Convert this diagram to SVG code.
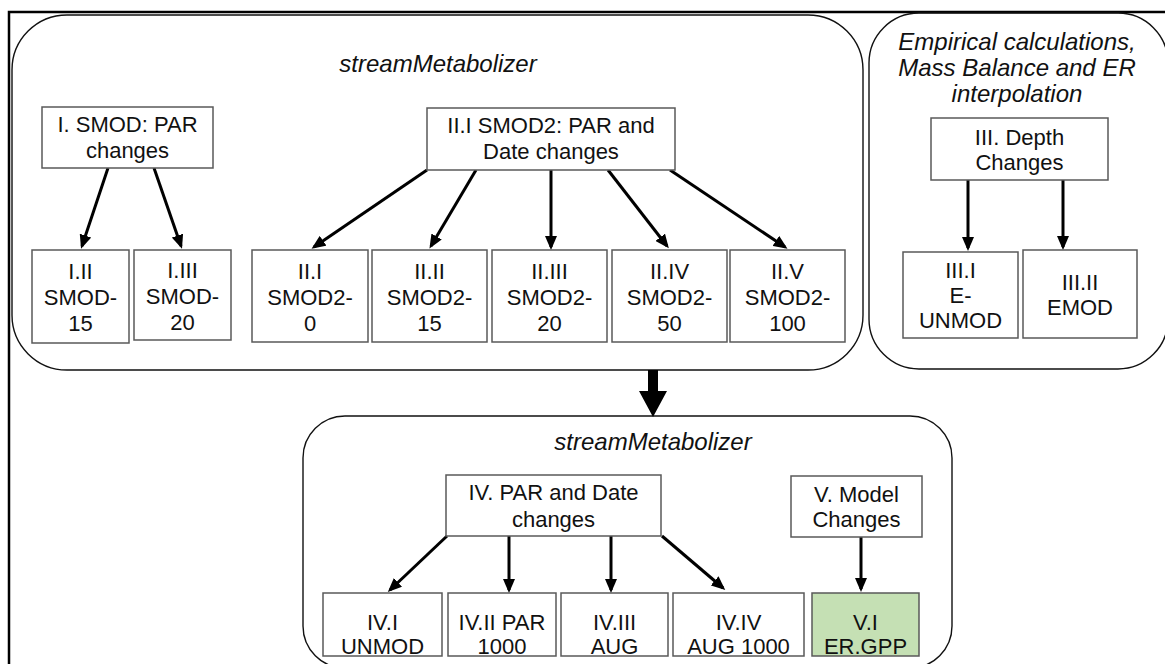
<svg xmlns="http://www.w3.org/2000/svg" width="1165" height="664" viewBox="0 0 1165 664">
<style>
.box{fill:#fff;stroke:#595959;stroke-width:1.5}
.grp{fill:none;stroke:#111;stroke-width:1.4}
.t{font-family:"Liberation Sans",Arial,sans-serif;font-size:22px;fill:#111;text-anchor:middle}
.ti{font-family:"Liberation Sans",Arial,sans-serif;font-size:24px;font-style:italic;fill:#111;text-anchor:middle}
.arr{stroke:#000;stroke-width:3;fill:none;marker-end:url(#ah)}
</style>
<defs>
<marker id="ah" markerUnits="userSpaceOnUse" markerWidth="14" markerHeight="12" viewBox="0 0 14 12" refX="11" refY="6" orient="auto">
<path d="M0,0 L14,6 L0,12 z" fill="#000"/>
</marker>
</defs>
<rect width="1165" height="664" fill="#fff"/>
<path d="M9,666 V12 H1166" fill="none" stroke="#000" stroke-width="2.5"/>

<g id="containers">
<rect id="sm-top" class="grp" x="12" y="15" width="851" height="355" rx="55" ry="55"/>
<rect id="empirical" class="grp" x="869" y="13" width="299" height="356" rx="50" ry="50"/>
<rect id="sm-bottom" class="grp" x="303" y="416" width="649" height="252" rx="42" ry="42"/>
<text class="ti" x="438" y="72">streamMetabolizer</text>
<text class="ti" x="1017" y="50">Empirical calculations,</text>
<text class="ti" x="1017" y="76">Mass Balance and ER</text>
<text class="ti" x="1017" y="102">interpolation</text>
<text class="ti" x="653" y="450">streamMetabolizer</text>
</g>

<g id="connectors">
<line class="arr" x1="108" y1="168" x2="82" y2="246"/>
<line class="arr" x1="154" y1="168" x2="181" y2="246"/>
<line class="arr" x1="427" y1="170" x2="314" y2="247"/>
<line class="arr" x1="476" y1="170" x2="431" y2="246"/>
<line class="arr" x1="551" y1="170" x2="551" y2="247"/>
<line class="arr" x1="608" y1="170" x2="667" y2="246"/>
<line class="arr" x1="670" y1="170" x2="785" y2="247"/>
<line class="arr" x1="968" y1="180" x2="968" y2="248"/>
<line class="arr" x1="1063" y1="180" x2="1063" y2="247"/>
<line class="arr" x1="447" y1="536" x2="390" y2="590"/>
<line class="arr" x1="509" y1="536" x2="509" y2="590"/>
<line class="arr" x1="611" y1="536" x2="611" y2="590"/>
<line class="arr" x1="662" y1="536" x2="723" y2="588"/>
<line class="arr" x1="861" y1="537" x2="861" y2="589"/>
<polygon points="648,370 658,370 658,391 667,391 653,417 639,391 648,391" fill="#000"/>
</g>

<g id="n-I">
<rect class="box" x="42" y="107" width="171" height="61"/>
<text class="t" x="127.5" y="132">I. SMOD: PAR</text>
<text class="t" x="127.5" y="158">changes</text>
</g>
<g id="n-I-II">
<rect class="box" x="32" y="250" width="97" height="93"/>
<text class="t" x="80.5" y="279">I.II</text>
<text class="t" x="80.5" y="305">SMOD-</text>
<text class="t" x="80.5" y="331">15</text>
</g>
<g id="n-I-III">
<rect class="box" x="134" y="250" width="97" height="90"/>
<text class="t" x="182.5" y="278">I.III</text>
<text class="t" x="182.5" y="304">SMOD-</text>
<text class="t" x="182.5" y="330">20</text>
</g>
<g id="n-II">
<rect class="box" x="427" y="108" width="248" height="62"/>
<text class="t" x="551" y="133">II.I SMOD2: PAR and</text>
<text class="t" x="551" y="159">Date changes</text>
</g>
<g id="n-II-I">
<rect class="box" x="252" y="250" width="116" height="92"/>
<text class="t" x="310" y="279">II.I</text>
<text class="t" x="310" y="305">SMOD2-</text>
<text class="t" x="310" y="331">0</text>
</g>
<g id="n-II-II">
<rect class="box" x="372" y="250" width="115" height="92"/>
<text class="t" x="429.5" y="279">II.II</text>
<text class="t" x="429.5" y="305">SMOD2-</text>
<text class="t" x="429.5" y="331">15</text>
</g>
<g id="n-II-III">
<rect class="box" x="492" y="250" width="115" height="92"/>
<text class="t" x="549.5" y="279">II.III</text>
<text class="t" x="549.5" y="305">SMOD2-</text>
<text class="t" x="549.5" y="331">20</text>
</g>
<g id="n-II-IV">
<rect class="box" x="612" y="250" width="115" height="92"/>
<text class="t" x="669.5" y="279">II.IV</text>
<text class="t" x="669.5" y="305">SMOD2-</text>
<text class="t" x="669.5" y="331">50</text>
</g>
<g id="n-II-V">
<rect class="box" x="730" y="250" width="115" height="92"/>
<text class="t" x="787.5" y="279">II.V</text>
<text class="t" x="787.5" y="305">SMOD2-</text>
<text class="t" x="787.5" y="331">100</text>
</g>
<g id="n-III">
<rect class="box" x="931" y="118" width="177" height="62"/>
<text class="t" x="1019.5" y="145">III. Depth</text>
<text class="t" x="1019.5" y="170">Changes</text>
</g>
<g id="n-III-I">
<rect class="box" x="903" y="252" width="115" height="86"/>
<text class="t" x="960.5" y="278">III.I</text>
<text class="t" x="960.5" y="303">E-</text>
<text class="t" x="960.5" y="328">UNMOD</text>
</g>
<g id="n-III-II">
<rect class="box" x="1023" y="250" width="114" height="88"/>
<text class="t" x="1080" y="290">III.II</text>
<text class="t" x="1080" y="315">EMOD</text>
</g>
<g id="n-IV">
<rect class="box" x="446" y="475" width="215" height="61"/>
<text class="t" x="553.5" y="500">IV. PAR and Date</text>
<text class="t" x="553.5" y="527">changes</text>
</g>
<g id="n-V">
<rect class="box" x="791" y="476" width="131" height="61"/>
<text class="t" x="856.5" y="502">V. Model</text>
<text class="t" x="856.5" y="527">Changes</text>
</g>
<g id="n-IV-I">
<rect class="box" x="323" y="593" width="119" height="63"/>
<text class="t" x="382.5" y="630">IV.I</text>
<text class="t" x="382.5" y="654">UNMOD</text>
</g>
<g id="n-IV-II">
<rect class="box" x="448" y="593" width="108" height="63"/>
<text class="t" x="502" y="630">IV.II PAR</text>
<text class="t" x="502" y="654">1000</text>
</g>
<g id="n-IV-III">
<rect class="box" x="561" y="593" width="107" height="63"/>
<text class="t" x="614.5" y="630">IV.III</text>
<text class="t" x="614.5" y="654">AUG</text>
</g>
<g id="n-IV-IV">
<rect class="box" x="673" y="593" width="131" height="63"/>
<text class="t" x="738.5" y="630">IV.IV</text>
<text class="t" x="738.5" y="654">AUG 1000</text>
</g>
<g id="n-V-I">
<rect class="box" x="812" y="593" width="107" height="63" style="fill:#c5e0b4"/>
<text class="t" x="865.5" y="630">V.I</text>
<text class="t" x="865.5" y="654">ER.GPP</text>
</g>
</svg>
